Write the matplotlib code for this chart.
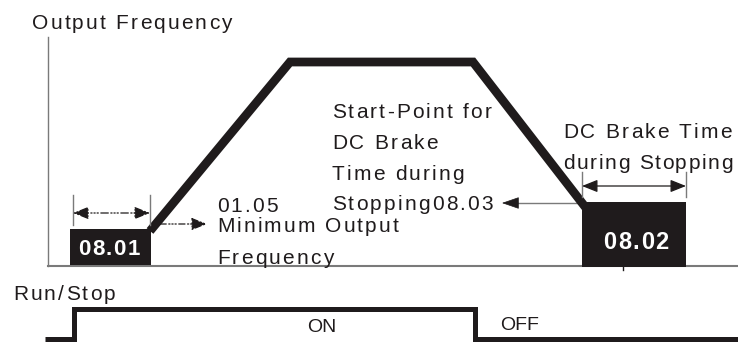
import matplotlib
matplotlib.use("Agg")
import matplotlib.pyplot as plt
from matplotlib import font_manager
from matplotlib.font_manager import FontProperties
from matplotlib.ft2font import FT2Font
from matplotlib.patches import Rectangle

# diagram coordinates are in image units (x: time to the right, y: level downwards)
freq_t = [150, 290, 473, 586]          # output frequency ramp
freq_f = [231, 62, 62, 208]
run_t = [45, 74, 74, 475, 475, 738]    # run / stop command
run_v = [339, 339, 309, 309, 339, 339]

box_0801 = (70, 151, 229, 265)          # left, right, top, bottom
box_0802 = (582, 686, 202, 267)

axis_x = 48
axis_top = 37
axis_y = 266

# text, x, baseline, letter spacing
plain_labels = [
    ("Output Frequency", 32, 29, 2.2),
    ("Start-Point for", 332, 118, 2.2),
    ("DC Brake", 332, 149, 2.2),
    ("Time during", 332, 180, 2.2),
    ("Stopping08.03", 332, 210, 2.2),
    ("DC Brake Time", 563, 138, 2.2),
    ("during Stopping", 563, 169, 1.7),
    ("01.05", 217, 212, 2.2),
    ("Minimum Output", 217, 232, 2.2),
    ("Frequency", 217, 264, 2.2),
    ("Run/Stop", 13, 300, 2.2),
]
state_labels = [("ON", 307, 332), ("OFF", 500, 330)]

INK = "#1f1b1c"
GREY = "#7a7a7a"
DPI = 100

reg_path = font_manager.findfont(FontProperties(family="Liberation Sans"))
bold_path = font_manager.findfont(FontProperties(family="Liberation Sans", weight="bold"))
reg_font = FT2Font(reg_path)
bold_font = FT2Font(bold_path)


def advance(font, ch, size):
    font.set_size(size, 72)
    g = font.load_char(ord(ch))
    return g.linearHoriAdvance / 65536 * DPI / 72


def spaced_text(ax, s, x, y, size=15, track=2.2, bold=False, color=INK, center=False):
    font = bold_font if bold else reg_font
    widths = [advance(font, c, size) for c in s]
    if center:
        x = x - (sum(widths) + track * (len(s) - 1)) / 2
    for c, w in zip(s, widths):
        if c != " ":
            ax.text(x, y, c, fontsize=size, family="Liberation Sans",
                    weight="bold" if bold else "normal", color=color,
                    ha="left", va="baseline")
        x += w + track


fig = plt.figure(figsize=(7.38, 3.44), dpi=DPI)
ax = fig.add_axes([0, 0, 1, 1])
ax.set_xlim(0, 738)
ax.set_ylim(344, 0)
ax.axis("off")

# axes of the frequency plot
ax.plot([axis_x, axis_x], [axis_top, axis_y], color=GREY, lw=1.0)
ax.plot([axis_x, 738], [axis_y, axis_y], color=GREY, lw=1.5)

# boxes
for l, r, t, b in (box_0801, box_0802):
    ax.add_patch(Rectangle((l, t), r - l, b - t, color=INK, lw=0, zorder=3))
ax.plot([623, 623], [box_0802[3], box_0802[3] + 3], color=INK, lw=1)

# frequency ramp
ax.plot(freq_t, freq_f, color=INK, lw=6.3, solid_joinstyle="miter",
        solid_capstyle="butt", zorder=2)

# run / stop signal
ax.plot(run_t, run_v, color=INK, lw=3.6, solid_joinstyle="miter",
        solid_capstyle="butt")

# dimension lines
for x in (box_0801[0] + 3, box_0801[1] - 1):
    ax.plot([x, x], [195, 225], color=GREY, lw=1.0)
for x in (box_0802[0], box_0802[1]):
    ax.plot([x, x], [172, 197], color=GREY, lw=1.0)

head = dict(arrowstyle="<|-|>,head_length=0.95,head_width=0.38", mutation_scale=10,
            color=INK, lw=0.9, shrinkA=0, shrinkB=0)
ax.annotate("", xy=(box_0801[0] + 3, 213), xytext=(box_0801[1] - 1, 213),
            arrowprops=dict(head, linestyle=(0, (6, 2, 1, 1.5, 1, 1.5, 1, 2))))
ax.annotate("", xy=(box_0802[0], 186), xytext=(box_0802[1], 186), arrowprops=head)

one = dict(arrowstyle="-|>,head_length=0.95,head_width=0.38", mutation_scale=10,
           color=INK, lw=0.9, shrinkA=0, shrinkB=0)
ax.annotate("", xy=(207, 224), xytext=(160, 224),
            arrowprops=dict(one, linestyle=(0, (5, 2, 1, 1.5, 1, 1.5, 1, 2))))
# start-point arrow: grey shaft, black head
ax.plot([510, box_0802[0]], [203, 203], color=GREY, lw=1.0, zorder=1)
ax.annotate("", xy=(502, 203), xytext=(518, 203),
            arrowprops=dict(one, arrowstyle="-|>,head_length=1.1,head_width=0.38", lw=0.5))

# texts
for s, x, y, tr in plain_labels:
    spaced_text(ax, s, x, y, track=tr)
for s, x, y in state_labels:
    ax.text(x, y, s, fontsize=14, family="Liberation Sans", color=INK,
            ha="left", va="baseline")
spaced_text(ax, "08.01", 109, 255, size=16, track=1.5, bold=True, color="white", center=True)
spaced_text(ax, "08.02", 636, 249, size=17, track=1.5, bold=True, color="white", center=True)

fig.savefig("out.png", dpi=DPI)
